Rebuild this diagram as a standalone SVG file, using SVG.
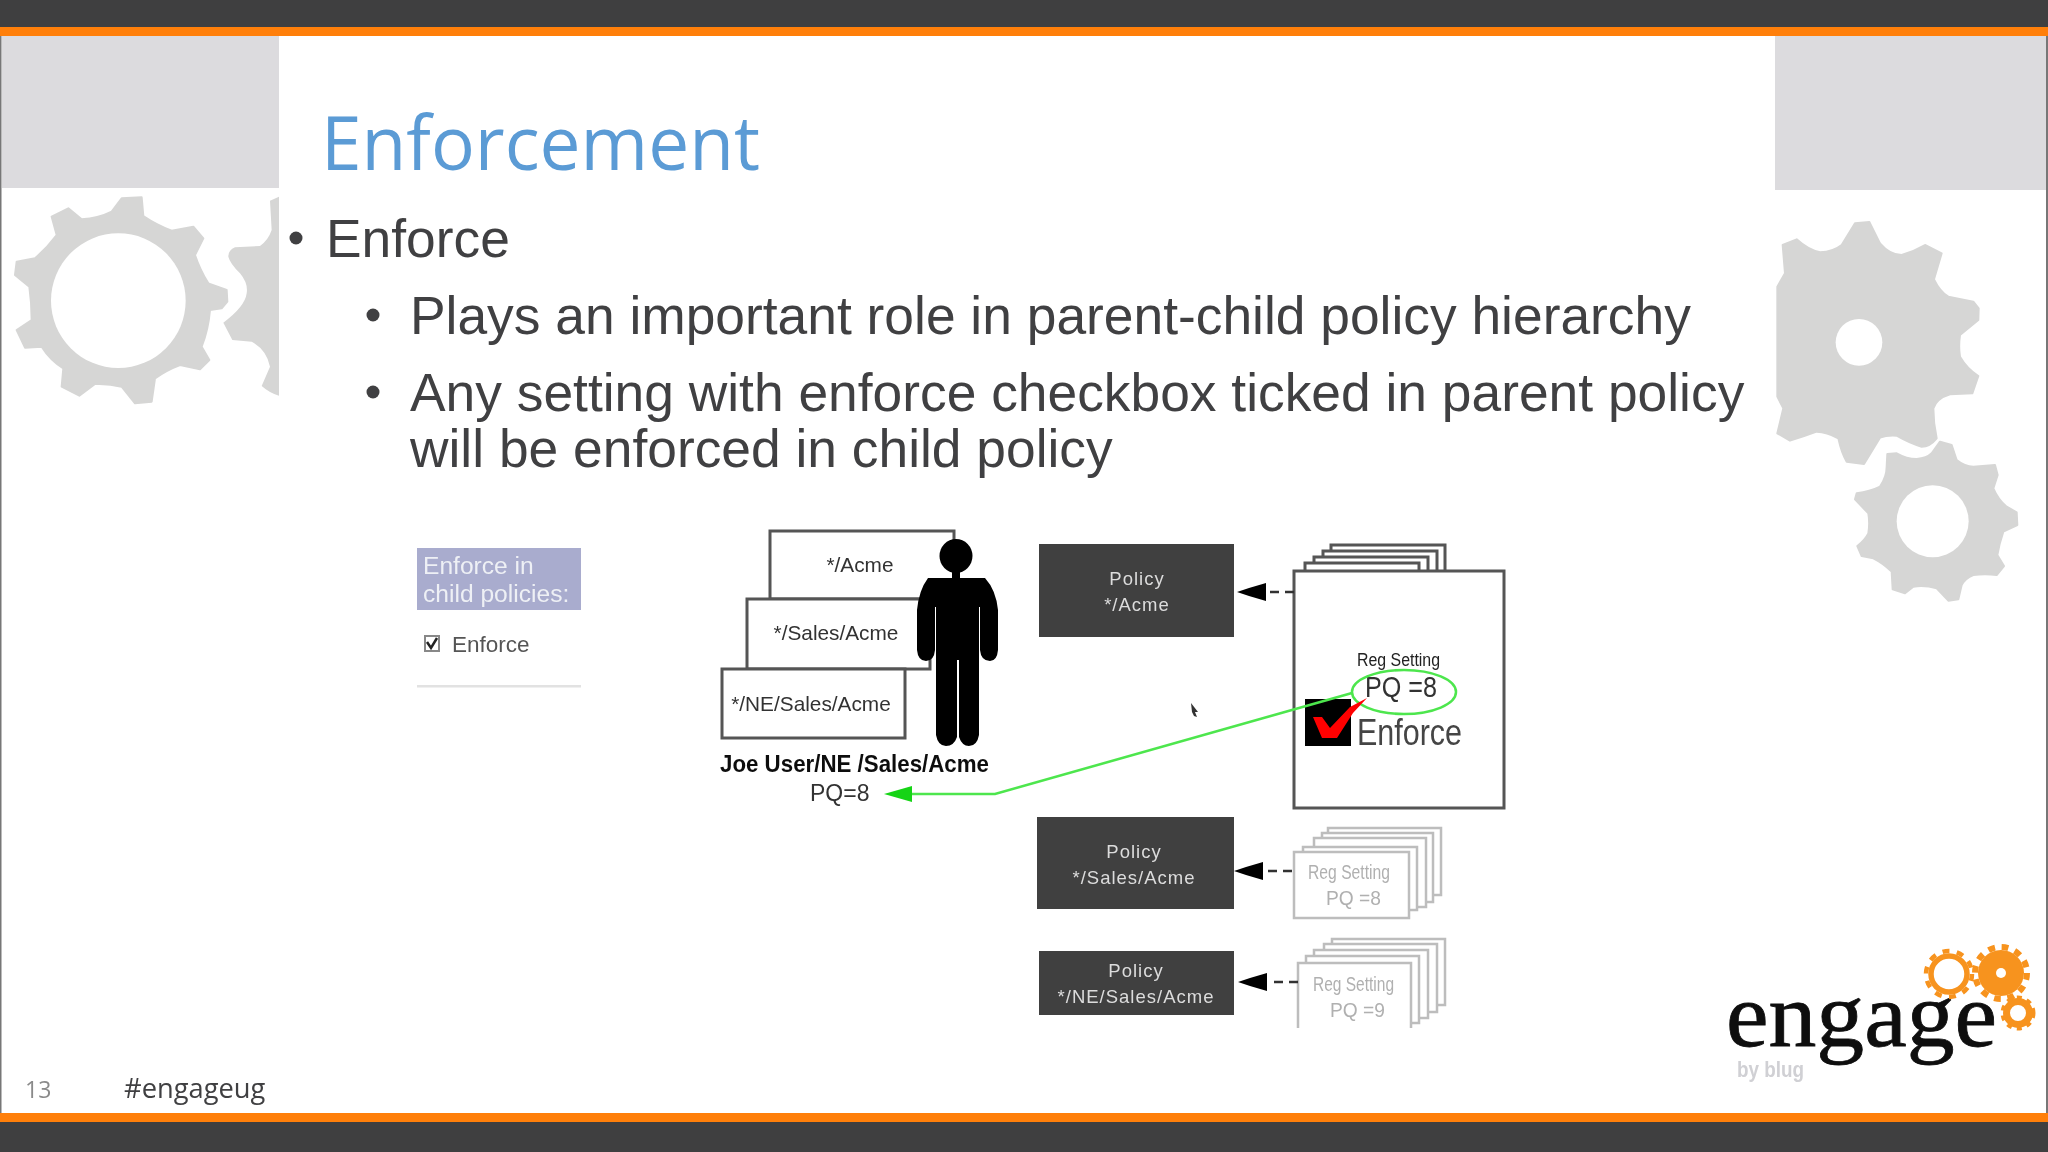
<svg xmlns="http://www.w3.org/2000/svg" width="2048" height="1152" viewBox="0 0 2048 1152">
<style>
.sans{font-family:"Liberation Sans",Arial,sans-serif}
.open{font-family:"Open Sans","Noto Sans",sans-serif}
.body{font-family:"Liberation Sans",Arial,sans-serif;font-size:53.35px;fill:#404042}
.gear{fill:#d6d6d5;stroke:#d6d6d5;stroke-width:6;stroke-linejoin:round}
.hole{fill:#fff}
.pol{fill:#404041}
.polt{font-family:"Liberation Sans",Arial,sans-serif;font-size:18.5px;fill:#dcdcdc;text-anchor:middle;letter-spacing:1px}
.ou{fill:#fff;stroke:#555;stroke-width:3}
.ou2{fill:#fff;stroke:#bdbdbd;stroke-width:2.5}
.lbl{font-family:"Liberation Sans",Arial,sans-serif;font-size:20.8px;fill:#333;text-anchor:middle}
.lgt{font-family:"Liberation Sans",Arial,sans-serif;font-size:20px;fill:#b0b0b0}
.dash{fill:none;stroke:#333;stroke-width:2.5;stroke-dasharray:9 6}
.grn{fill:none;stroke:#4ee64e;stroke-width:2.5}
.og{fill:none;stroke:#f7931e}
.soft{filter:url(#soft)}
</style>
<defs>
<filter id="soft" x="-5%" y="-5%" width="110%" height="110%"><feGaussianBlur stdDeviation="0.55"/></filter>
<path id="head" d="M0 0L12 -4L29 -9V9L12 4Z" fill="#000"/>
</defs>
<rect width="2048" height="1152" fill="#fff"/>
<g id="frame">
<rect x="0" y="0" width="2048" height="27" fill="#3f3f40"/>
<rect x="0" y="27" width="2048" height="9" fill="#ff7f0a"/>
<rect x="0" y="1113" width="2048" height="9" fill="#ff7f0a"/>
<rect x="0" y="1122" width="2048" height="30" fill="#3f3f40"/>
<rect x="0" y="36" width="1.5" height="1077" fill="#777"/>
<rect x="2046" y="36" width="2" height="1077" fill="#777"/>
<rect x="2" y="36" width="277" height="152" fill="#dcdbde"/>
<rect x="1775" y="36" width="271" height="154" fill="#dcdbde"/>
</g>
<g id="gears-left" transform="scale(0.33333)">
<path class="gear" d="M365 595L425 592L430 648Q470 675 515 692L580 680L610 715L585 765Q600 810 625 850L680 870L682 905L665 925L630 930Q625 990 605 1040L628 1080L600 1108L540 1095Q500 1110 465 1135L455 1205L405 1210L365 1160Q325 1150 285 1152L238 1187L185 1160L190 1105Q150 1080 125 1040L75 1043L50 990L95 960Q95 910 88 860L45 825L50 785L105 775Q140 745 170 705L155 650L205 625L245 658Q295 655 335 635Z"/>
<circle class="hole" cx="355" cy="902" r="202"/>
<path fill="#d6d6d5" d="M837 590L810 602L815 690Q805 720 780 738L705 742Q685 750 685 770Q690 790 720 820Q745 850 740 880Q735 920 670 968L697 1020L755 1025Q800 1050 810 1100L785 1158Q810 1180 837 1187Z"/>
</g>
<g id="gears-right" transform="translate(1740 160) scale(0.33333)">
<path class="gear" d="M345 190L388 186L420 250Q450 285 485 285Q520 275 555 255L605 280L582 358Q600 395 625 410L700 425L716 445L715 480L660 525Q655 560 660 590Q680 625 715 648L697 700L630 703Q590 715 580 745Q580 790 590 835Q570 860 545 860Q510 850 470 827Q440 825 420 833L372 912L320 905Q305 880 295 835Q260 815 230 815Q190 830 150 842L112 820L130 745L112 710L112 380L135 340L128 255L170 238Q205 270 240 277Q280 275 305 255Z"/>
<circle class="hole" cx="357" cy="547" r="70"/>
<path class="gear" d="M600 845L635 855L650 900Q675 920 700 920L765 915L773 945L760 985Q775 1020 800 1040L830 1057L832 1095L790 1115Q778 1150 772 1185L792 1218L770 1245Q735 1240 700 1245Q675 1255 665 1275L655 1318L625 1322L590 1285Q555 1275 520 1280L495 1300L458 1288L455 1235Q430 1210 400 1195L365 1188L352 1158Q375 1140 385 1120Q390 1090 385 1060L345 1018L350 1000Q390 995 420 980Q440 950 440 920L442 882L470 880Q500 897 530 897Q560 895 575 880Z"/>
<circle class="hole" cx="578" cy="1084" r="108"/>
</g>
<text id="title" class="open" x="321" y="170" font-size="75" fill="#5b9bd5" textLength="439" lengthAdjust="spacingAndGlyphs">Enforcement</text>
<g id="content">
<circle cx="296" cy="238" r="6.5" fill="#404042"/>
<text class="body" x="326" y="257">Enforce</text>
<circle cx="373" cy="315" r="6.5" fill="#404042"/>
<text class="body" x="410" y="334">Plays an important role in parent-child policy hierarchy</text>
<circle cx="373" cy="392" r="6.5" fill="#404042"/>
<text class="body" x="410" y="411">Any setting with enforce checkbox ticked in parent policy</text>
<text class="body" x="410" y="467">will be enforced in child policy</text>
</g>
<g id="enforce-panel" class="soft">
<rect x="417" y="548" width="164" height="62" fill="#a9acce"/>
<text class="sans" x="423" y="574" font-size="24.6" fill="#eef0f5">Enforce in</text>
<text class="sans" x="423" y="602" font-size="24.6" fill="#eef0f5">child policies:</text>
<rect x="425" y="636" width="14" height="15" fill="#fff" stroke="#888" stroke-width="2"/>
<path d="M427 642L431 648L437 638" fill="none" stroke="#222" stroke-width="2.5"/>
<text class="sans" x="452" y="652" font-size="22.5" fill="#555">Enforce</text>
<rect x="417" y="685" width="164" height="2.5" fill="#e2e2e2"/>
</g>
<g id="ou-acme" class="soft"><rect class="ou" x="770" y="531" width="184" height="68"/><text class="lbl" x="860" y="572">*/Acme</text></g>
<g id="ou-sales" class="soft"><rect class="ou" x="747" y="599" width="183" height="70"/><text class="lbl" x="836" y="640">*/Sales/Acme</text></g>
<g id="ou-ne" class="soft"><rect class="ou" x="722" y="669" width="183" height="69"/><text class="lbl" x="811" y="711">*/NE/Sales/Acme</text></g>
<g id="user" class="soft">
<ellipse cx="956" cy="556" rx="16.5" ry="17"/>
<path d="M952 572h8v8h-8z"/>
<path d="M928 578H985Q996 590 998 610V650Q997 661 990 661Q981 661 980 650V607H979V735Q977 746 969 746Q962 746 959 737V660H957V737Q954 746 946 746Q938 746 936 735V607H935V650Q934 661 926 661Q918 661 917 650V610Q919 590 928 578Z"/>
<text class="sans" x="720" y="772" font-size="24" font-weight="bold" fill="#111" textLength="269" lengthAdjust="spacingAndGlyphs">Joe User/NE /Sales/Acme</text>
<text class="sans" x="810" y="801" font-size="23" fill="#333">PQ=8</text>
</g>
<g id="policy-acme" class="soft"><rect class="pol" x="1039" y="544" width="195" height="93"/><text class="polt" x="1137" y="585">Policy</text><text class="polt" x="1137" y="611">*/Acme</text></g>
<g id="policy-sales" class="soft"><rect class="pol" x="1037" y="817" width="197" height="92"/><text class="polt" x="1134" y="858">Policy</text><text class="polt" x="1134" y="884">*/Sales/Acme</text></g>
<g id="policy-ne" class="soft"><rect class="pol" x="1039" y="951" width="195" height="64"/><text class="polt" x="1136" y="977">Policy</text><text class="polt" x="1136" y="1003">*/NE/Sales/Acme</text></g>
<g id="setting-acme" class="soft">
<rect class="ou" x="1331" y="545" width="114" height="40"/>
<rect class="ou" x="1323" y="551" width="114" height="40"/>
<rect class="ou" x="1314" y="557" width="114" height="40"/>
<rect class="ou" x="1305" y="563" width="114" height="40"/>
<rect class="ou" x="1294" y="571" width="210" height="237"/>
<text class="sans" x="1357" y="666" font-size="18" fill="#222" textLength="83" lengthAdjust="spacingAndGlyphs">Reg Setting</text>
<text class="sans" x="1365" y="697" font-size="29" fill="#333" textLength="72" lengthAdjust="spacingAndGlyphs">PQ =8</text>
<rect x="1305" y="699" width="46" height="47" fill="#000"/>
<text class="sans" x="1357" y="745" font-size="36" fill="#444" textLength="105" lengthAdjust="spacingAndGlyphs">Enforce</text>
</g>
<g id="setting-sales" class="soft">
<rect class="ou2" x="1328" y="828" width="113" height="67"/>
<rect class="ou2" x="1322" y="833" width="111" height="69"/>
<rect class="ou2" x="1314" y="838" width="112" height="69"/>
<rect class="ou2" x="1303" y="847" width="114" height="63"/>
<rect class="ou2" x="1294" y="852" width="115" height="66"/>
<text class="lgt" x="1308" y="879" textLength="82" lengthAdjust="spacingAndGlyphs">Reg Setting</text>
<text class="lgt" x="1326" y="905" textLength="55" lengthAdjust="spacingAndGlyphs">PQ =8</text>
</g>
<g id="setting-ne" class="soft">
<rect class="ou2" x="1332" y="939" width="113" height="66"/>
<rect class="ou2" x="1324" y="944" width="113" height="68"/>
<rect class="ou2" x="1314" y="950" width="114" height="68"/>
<rect class="ou2" x="1306" y="956" width="113" height="67"/>
<path class="ou2" d="M1298 1028V963H1411V1028"/>
<text class="lgt" x="1313" y="991" textLength="81" lengthAdjust="spacingAndGlyphs">Reg Setting</text>
<text class="lgt" x="1330" y="1017" textLength="55" lengthAdjust="spacingAndGlyphs">PQ =9</text>
</g>
<g id="connectors" class="soft">
<path class="dash" d="M1294 592H1270"/>
<use href="#head" x="1237" y="592"/>
<path class="dash" d="M1292 871H1265"/>
<use href="#head" x="1234" y="871"/>
<path class="dash" d="M1298 982H1270"/>
<use href="#head" x="1238" y="982"/>
<ellipse class="grn" cx="1404" cy="692" rx="52" ry="22"/>
<path class="grn" d="M1352 693L995 794H905"/>
<path d="M884 794L912 786V802Z" fill="#16d416"/>
<path d="M1313 717L1322 717L1330 728L1350 707L1367 698L1353 713L1337 738L1322 738Z" fill="#f00"/>
</g>
<path id="cursor" class="soft" d="M1191 703L1198 712L1195 712L1197 717L1194 716L1192 712Z" fill="#333"/>
<g id="logo">
<text x="1726" y="1046" font-family="Liberation Serif,serif" font-size="91" fill="#0e0e0e" stroke="#0e0e0e" stroke-width="0.8" textLength="271" lengthAdjust="spacingAndGlyphs">engage</text>
<text class="sans soft" x="1737" y="1077" font-size="22" font-weight="bold" fill="#d0d0d4" textLength="67" lengthAdjust="spacingAndGlyphs">by blug</text>
<circle class="og" cx="1949" cy="974" r="18" stroke-width="5.5"/>
<circle class="og" cx="1949" cy="974" r="23" stroke-width="4.5" stroke-dasharray="7 7.45"/>
<circle cx="2001" cy="973" r="23" fill="#f7931e"/>
<circle class="og" cx="2001" cy="973" r="26" stroke-width="6" stroke-dasharray="6.8 6.8"/>
<circle cx="2001" cy="973" r="5" fill="#fff"/>
<circle class="og" cx="2018" cy="1013" r="11.5" stroke-width="7"/>
<circle class="og" cx="2018" cy="1013" r="15.5" stroke-width="4" stroke-dasharray="5 5.2"/>
</g>
<g id="footer">
<text class="open" x="25" y="1098" font-size="23" fill="#8a8a8a">13</text>
<text class="open" x="124" y="1098" font-size="27.3" fill="#404042">#engageug</text>
</g>
</svg>
